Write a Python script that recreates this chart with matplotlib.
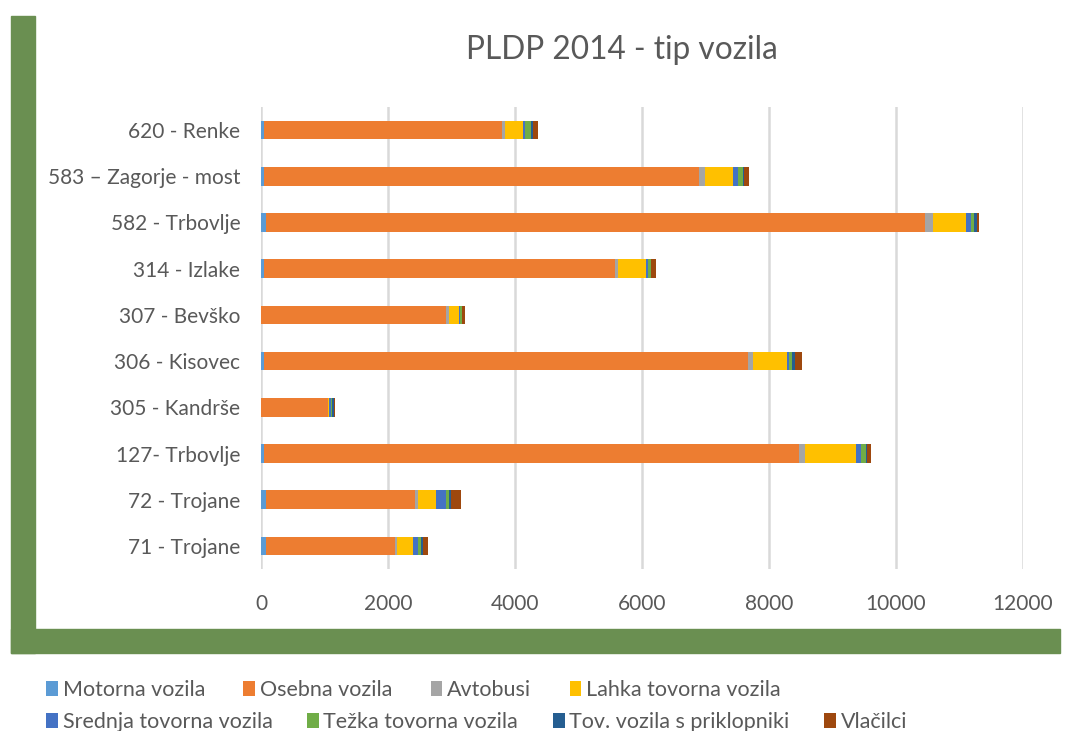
import matplotlib
matplotlib.use("Agg")
import matplotlib.pyplot as plt
from matplotlib.patches import Rectangle
import numpy as np

plt.rcParams['font.family'] = ['Lato', 'DejaVu Sans']

categories = ["71 - Trojane", "72 - Trojane", "127- Trbovlje", "305 - Kandrše",
              "306 - Kisovec", "307 - Bevško", "314 - Izlake", "582 - Trbovlje",
              "583 – Zagorje - most", "620 - Renke"]

series_names = ["Motorna vozila", "Osebna vozila", "Avtobusi", "Lahka tovorna vozila",
                "Srednja tovorna vozila", "Težka tovorna vozila",
                "Tov. vozila s priklopniki", "Vlačilci"]

motorna  = [79, 79, 42, 5, 42, 5, 42, 80, 42, 40]
osebna   = [2026, 2351, 8436, 1050, 7633, 2914, 5539, 10378, 6861, 3760]
avtobusi = [42, 37, 89, 5, 79, 37, 37, 126, 89, 42]
lahka    = [247, 284, 803, 5, 530, 163, 446, 520, 441, 290]
srednja  = [79, 168, 84, 42, 37, 10, 26, 79, 79, 30]
tezka    = [42, 42, 74, 10, 42, 31, 47, 47, 84, 90]
tov      = [37, 37, 10, 31, 42, 5, 10, 42, 10, 37]
vlacilci = [84, 158, 74, 10, 116, 42, 74, 42, 75, 80]

xticks = [0, 2000, 4000, 6000, 8000, 10000, 12000]

colors = ["#5B9BD5", "#ED7D31", "#A5A5A5", "#FFC000",
          "#4472C4", "#70AD47", "#255E91", "#9E480E"]

W, H = 1071, 731
fig = plt.figure(figsize=(W / 100, H / 100), dpi=100)

# green frame
green = "#6A8F51"
fig.patches.append(Rectangle((11 / W, 1 - 653 / H), 24 / W, (653 - 16) / H,
                             transform=fig.transFigure, color=green, zorder=0))
fig.patches.append(Rectangle((11 / W, 1 - 653 / H), (1060 - 11) / W, 24 / H,
                             transform=fig.transFigure, color=green, zorder=0))

ax = fig.add_axes([261 / W, 1 - 569 / H, 762 / W, 462 / H])
txt = "#595959"

data = [motorna, osebna, avtobusi, lahka, srednja, tezka, tov, vlacilci]
y = np.arange(len(categories))
left = np.zeros(len(categories))
handles = []
for name, vals, c in zip(series_names, data, colors):
    vals = np.array(vals, dtype=float)
    b = ax.barh(y, vals, left=left, height=0.4, color=c, label=name, linewidth=0, zorder=3)
    handles.append(b)
    left += vals

ax.set_ylim(-0.5, len(categories) - 0.5)
ax.set_xlim(0, 12000)
ax.set_xticks(xticks)
ax.set_xticklabels([str(t) for t in xticks])
ax.set_yticks(y)
ax.set_yticklabels(categories)
ax.tick_params(axis='both', length=0, colors=txt)
ax.tick_params(axis='x', pad=18, labelsize=15)
ax.tick_params(axis='y', pad=15, labelsize=15)
ax.grid(axis='x', color="#D9D9D9", linewidth=1.8, zorder=0)
ax.set_axisbelow(True)
for s in ax.spines.values():
    s.set_visible(False)

fig.text(621.5 / W, 1 - 50 / H, "PLDP 2014 - tip vozila", ha='center', va='center',
         fontsize=22.8, color=txt)

leg_kw = dict(frameon=False, fontsize=15.5, labelcolor=txt, handlelength=0.55,
              handleheight=0.7, handletextpad=0.22,
              borderpad=0, borderaxespad=0, loc='center left')
l1 = fig.legend(handles[:4], series_names[:4], ncol=4, columnspacing=1.78,
                bbox_to_anchor=(46 / W, 1 - 690 / H), **leg_kw)
l2 = fig.legend(handles[4:], series_names[4:], ncol=4, columnspacing=1.6,
                bbox_to_anchor=(46 / W, 1 - 722 / H), **leg_kw)

fig.savefig("out.png", dpi=100)
